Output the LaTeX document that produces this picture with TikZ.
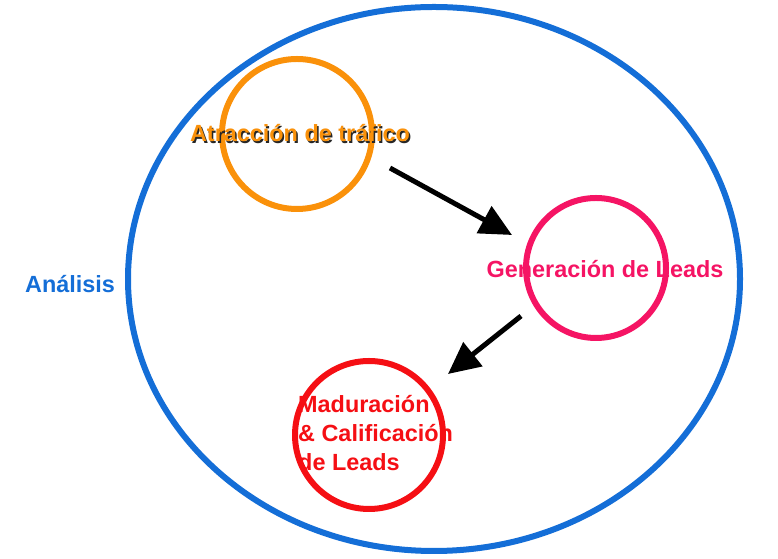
\documentclass[tikz,border=0pt]{standalone}
\usepackage{fontspec}
\setmainfont{Liberation Sans}
\usetikzlibrary{arrows.meta}
\definecolor{cblue}{RGB}{20,110,215}
\definecolor{corange}{RGB}{250,145,10}
\definecolor{cpink}{RGB}{245,20,100}
\definecolor{cred}{RGB}{245,15,20}
\tikzset{lbl/.style={font=\bfseries\fontsize{23.5}{29}\selectfont, inner sep=0pt},
 arr/.style={-{Triangle[length=32pt,width=30pt]}, line width=5pt}}
\begin{document}
\begin{tikzpicture}[x=1bp,y=1bp]
\useasboundingbox (0,0) rectangle (778,559);
\draw[cblue, line width=6bp] (434,280) ellipse [x radius=306, y radius=272];
\draw[corange, line width=6bp] (297,425) circle [radius=75];
\draw[cpink, line width=6bp] (596,291) circle [radius=70];
\draw[cred, line width=6bp] (369,124) circle [radius=74];
\coordinate (a1) at (390,391); \coordinate (a1e) at (512,324);
\coordinate (a2) at (521,243); \coordinate (a2e) at (448,185);
\draw[arr] (a1) -- (a1e);
\draw[arr] (a2) -- (a2e);
\node[lbl, text=cblue] (an) at (70,275) {Análisis};
\node[lbl, text=black!85] (atrs) at (301.5,424) {Atracción de tráfico};
\node[lbl, text=corange] (atr) at (300,426) {Atracción de tráfico};
\node[lbl, text=cpink] (gen) at (605,290) {Generación de Leads};
\node[lbl, text=cred, align=left, anchor=north west] (mad) at (298,164) {Maduración\\\& Calificación\\de Leads};
\end{tikzpicture}
\end{document}
